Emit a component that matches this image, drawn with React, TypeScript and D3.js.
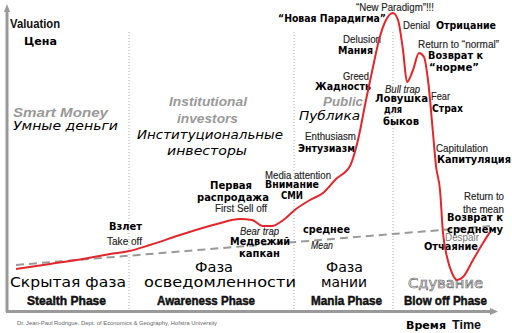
import React from "react";
import * as d3 from "d3";

// ---- data ----
// bubble curve: time (0..98) vs valuation (0..76)
const curveTime = [1.8, 8.6, 15.2, 20.6, 24.4, 28.6, 35.2, 42, 46.6, 49, 51.2, 53, 55, 57.8, 60.6, 63.2, 65.8, 68.6, 70.2, 71.8, 73.2, 74.4, 75.8, 77.2, 78.2, 79.2, 80, 81.2, 82.4, 83.4, 84.2, 85.2, 85.8, 86.6, 87.2, 88, 89, 90, 91.2, 93.2, 95.2, 96.6];
const curveValue = [10.75, 12, 13.25, 14.5, 15.25, 16.75, 19.5, 22, 23.25, 23, 21.5, 21.5, 22.75, 25.75, 28, 29.75, 33.25, 36.5, 43, 53, 61.25, 68, 73, 74.75, 73, 65.5, 57.5, 60.5, 64.75, 63.75, 58, 44.75, 36.5, 30.5, 19.75, 13.75, 9.75, 8, 8.75, 13, 17.25, 20];
const meanTime = [1.8, 96.6];
const meanValue = [11.75, 21.5];
const phaseBounds = [24.4, 57.4, 77.2];

const W = 512, H = 333;
const x = d3.scaleLinear().domain([0, 98]).range([7, 497]);
const y = d3.scaleLinear().domain([0, 76]).range([312, 8]);

const EN = "'Liberation Sans Narrow', 'Arial Narrow', 'Liberation Sans', sans-serif";
const RU = "'DejaVu Sans', Verdana, sans-serif";

type L = { t: string; x: number; y: number; w: number; s: string };
const styles: Record<string, React.CSSProperties & { fontSize: number }> = {
  en: { fontFamily: EN, fontSize: 11, fill: "#222", stroke: "#222", strokeWidth: 0.15 },
  enI: { fontFamily: EN, fontSize: 11, fill: "#222", fontStyle: "italic", stroke: "#222", strokeWidth: 0.15 },
  enG: { fontFamily: EN, fontSize: 11, fill: "#777" },
  ru: { fontFamily: RU, fontSize: 10, fill: "#000", fontWeight: "bold" },
  axis: { fontFamily: EN, fontSize: 12, fill: "#111", fontWeight: "bold" },
  gray: { fontFamily: "'Liberation Sans', Arial, sans-serif", fontSize: 13, fill: "#999", fontWeight: "bold", fontStyle: "italic" },
  ruI: { fontFamily: RU, fontSize: 13, fill: "#000", fontStyle: "italic" },
  big: { fontFamily: RU, fontSize: 14, fill: "#000" },
  bigH: { fontFamily: RU, fontSize: 14, fill: "#fff", stroke: "#555", strokeWidth: 0.6 },
  phase: { fontFamily: EN, fontSize: 13, fill: "#111", fontWeight: "bold", stroke: "#111", strokeWidth: 0.5 },
  tiny: { fontFamily: "'Liberation Sans', Arial, sans-serif", fontSize: 6, fill: "#666" },
};

const labels: L[] = [
  { t: "Valuation", x: 10, y: 28, w: 50, s: "axis" },
  { t: "Цена", x: 24, y: 45, w: 33, s: "ru" },
  { t: "Smart Money", x: 13, y: 117, w: 95, s: "gray" },
  { t: "Умные деньги", x: 13, y: 130, w: 105, s: "ruI" },
  { t: "Institutional", x: 169, y: 106, w: 78, s: "gray" },
  { t: "investors", x: 177, y: 123, w: 61, s: "gray" },
  { t: "Институциональные", x: 137, y: 139, w: 146, s: "ruI" },
  { t: "инвесторы", x: 167, y: 155, w: 80, s: "ruI" },
  { t: "Public", x: 323, y: 106, w: 40, s: "gray" },
  { t: "Публика", x: 299, y: 120, w: 61, s: "ruI" },
  { t: "\u201CNew Paradigm\u201D!!!", x: 356, y: 11, w: 78, s: "en" },
  { t: "\u201CНовая Парадигма\u201D", x: 278, y: 22, w: 108, s: "ru" },
  { t: "Denial", x: 403, y: 29, w: 27, s: "en" },
  { t: "Отрицание", x: 436, y: 29, w: 60, s: "ru" },
  { t: "Delusion", x: 343, y: 43, w: 38, s: "en" },
  { t: "Мания", x: 338, y: 54, w: 35, s: "ru" },
  { t: "Return to \u201Cnormal\u201D", x: 418, y: 48, w: 81, s: "en" },
  { t: "Возврат к", x: 428, y: 59, w: 55, s: "ru" },
  { t: "\u201Cнорме\u201D", x: 429, y: 71, w: 50, s: "ru" },
  { t: "Greed", x: 343, y: 80, w: 26, s: "en" },
  { t: "Жадность", x: 315, y: 90, w: 56, s: "ru" },
  { t: "Bull trap", x: 385, y: 93, w: 35, s: "enI" },
  { t: "Ловушка", x: 375, y: 102, w: 53, s: "ru" },
  { t: "для", x: 384, y: 113, w: 18, s: "ru" },
  { t: "быков", x: 383, y: 125, w: 36, s: "ru" },
  { t: "Fear", x: 431, y: 100, w: 19, s: "en" },
  { t: "Страх", x: 432, y: 112, w: 31, s: "ru" },
  { t: "Enthusiasm", x: 305, y: 140, w: 51, s: "en" },
  { t: "Энтузиазм", x: 298, y: 152, w: 57, s: "ru" },
  { t: "Capitulation", x: 436, y: 152, w: 52, s: "en" },
  { t: "Капитуляция", x: 437, y: 163, w: 74, s: "ru" },
  { t: "Media attention", x: 265, y: 179, w: 66, s: "en" },
  { t: "Внимание", x: 265, y: 188, w: 54, s: "ru" },
  { t: "СМИ", x: 281, y: 199, w: 22, s: "ru" },
  { t: "Первая", x: 210, y: 189, w: 42, s: "ru" },
  { t: "распродажа", x: 197, y: 201, w: 72, s: "ru" },
  { t: "First Sell off", x: 215, y: 212, w: 52, s: "en" },
  { t: "Взлет", x: 109, y: 230, w: 33, s: "ru" },
  { t: "Take off", x: 107, y: 245, w: 35, s: "en" },
  { t: "Bear trap", x: 240, y: 235, w: 39, s: "enI" },
  { t: "Медвежий", x: 230, y: 245, w: 60, s: "ru" },
  { t: "капкан", x: 239, y: 257, w: 41, s: "ru" },
  { t: "среднее", x: 303, y: 233, w: 47, s: "ru" },
  { t: "Mean", x: 311, y: 249, w: 22, s: "enI" },
  { t: "Return to", x: 464, y: 200, w: 40, s: "en" },
  { t: "the mean", x: 463, y: 213, w: 41, s: "en" },
  { t: "Возврат к", x: 447, y: 221, w: 56, s: "ru" },
  { t: "среднему", x: 447, y: 233, w: 56, s: "ru" },
  { t: "Despair", x: 445, y: 241, w: 34, s: "enG" },
  { t: "Отчаяние", x: 424, y: 250, w: 54, s: "ru" },
  { t: "Скрытая фаза", x: 10, y: 287, w: 116, s: "big" },
  { t: "Stealth Phase", x: 27, y: 305, w: 79, s: "phase" },
  { t: "Фаза", x: 195, y: 272, w: 38, s: "big" },
  { t: "осведомленности", x: 144, y: 287, w: 152, s: "big" },
  { t: "Awareness Phase", x: 157, y: 305, w: 98, s: "phase" },
  { t: "Фаза", x: 326, y: 272, w: 37, s: "big" },
  { t: "мании", x: 321, y: 287, w: 46, s: "big" },
  { t: "Mania Phase", x: 311, y: 305, w: 71, s: "phase" },
  { t: "Сдувание", x: 408, y: 288, w: 75, s: "bigH" },
  { t: "Blow off Phase", x: 404, y: 305, w: 83, s: "phase" },
  { t: "Dr. Jean-Paul Rodrigue, Dept. of Economics & Geography, Hofstra University", x: 17, y: 325, w: 200, s: "tiny" },
  { t: "Время", x: 406, y: 329, w: 40, s: "ru" },
  { t: "Time", x: 452, y: 329, w: 29, s: "axis" },
];

export default function App() {
  const pts: [number, number][] = curveTime.map((t, i) => [t, curveValue[i]]);
  const meanPts: [number, number][] = meanTime.map((t, i) => [t, meanValue[i]]);
  const line = d3.line<[number, number]>().x(d => x(d[0])).y(d => y(d[1])).curve(d3.curveMonotoneX);
  const straight = d3.line<[number, number]>().x(d => x(d[0])).y(d => y(d[1]));
  return (
    <svg width={W} height={H} style={{ position: "absolute", left: 0, top: 0, background: "#fff" }}>
      <rect width={W} height={H} fill="#fff" />
      {phaseBounds.map((b, i) => (
        <line key={i} x1={x(b)} x2={x(b)} y1={32} y2={310} stroke="#aaa" strokeWidth={1} strokeDasharray="1,2" />
      ))}
      <path d={straight(meanPts) || ""} fill="none" stroke="#999" strokeWidth={2} strokeDasharray="8,5" />
      {labels.map((l, i) => {
        const st = styles[l.s];
        return (
          <text key={i} x={l.x} y={l.y} textLength={l.w} lengthAdjust="spacingAndGlyphs" style={st as any}>
            {l.t}
          </text>
        );
      })}
      <path d={line(pts) || ""} fill="none" stroke="#e3262b" strokeWidth={2} />
      {/* axes */}
      <line x1={7} x2={7} y1={10} y2={312} stroke="#999" strokeWidth={3} />
      <path d="M7,4 L4,12 L10,12 Z" fill="#999" />
      <line x1={6} x2={491} y1={311.5} y2={311.5} stroke="#999" strokeWidth={3} />
      <path d="M498,311.5 L490,308 L490,315 Z" fill="#999" />
    </svg>
  );
}
